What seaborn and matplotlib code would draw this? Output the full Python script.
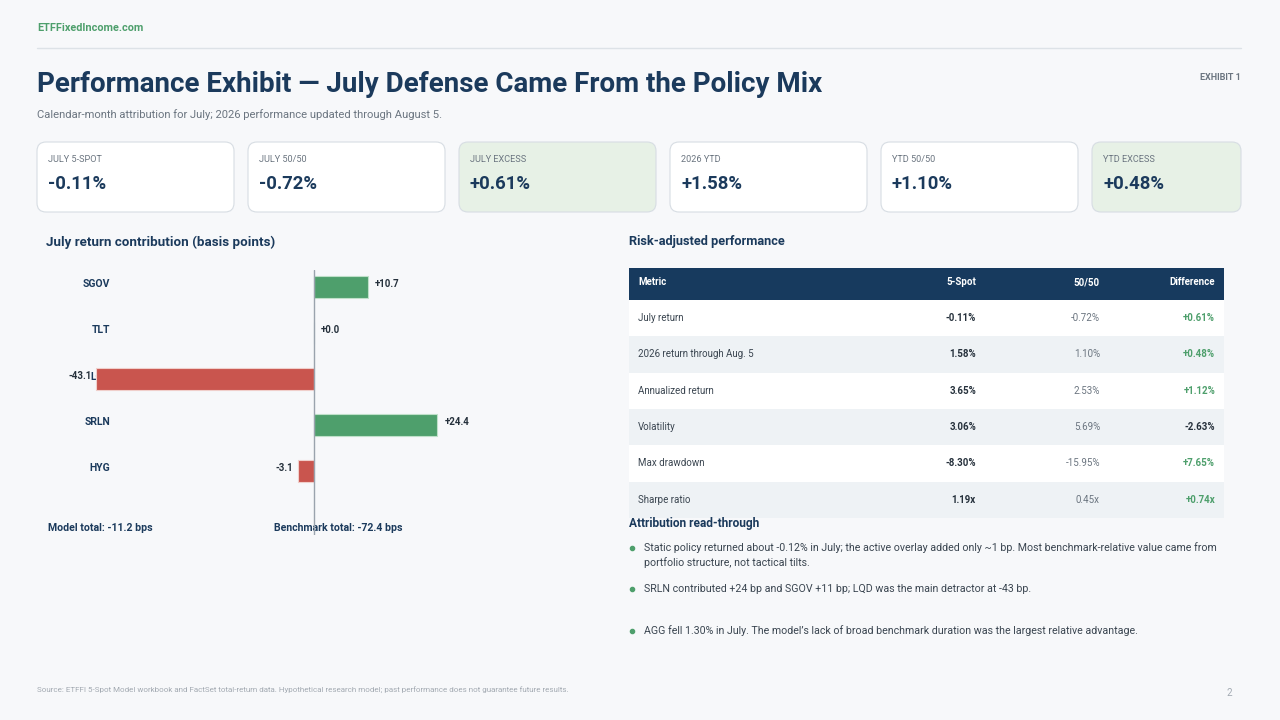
import matplotlib
matplotlib.use("Agg")
import matplotlib.pyplot as plt
import seaborn as sns
import pandas as pd
from matplotlib.patches import FancyBboxPatch, Rectangle

sns.set_theme(style="white")
plt.rcParams["font.family"] = ["Roboto", "DejaVu Sans"]

# ---- data ----
tickers = ["SGOV", "TLT", "LQD", "SRLN", "HYG"]
contrib_bp = [10.7, 0.0, -43.1, 24.4, -3.1]
model_total = -11.2
bench_total = -72.4

card_labels = ["JULY 5-SPOT", "JULY 50/50", "JULY EXCESS", "2026 YTD", "YTD 50/50", "YTD EXCESS"]
card_values = ["-0.11%", "-0.72%", "+0.61%", "+1.58%", "+1.10%", "+0.48%"]
card_highlight = [False, False, True, False, False, True]

table_cols = ["Metric", "5-Spot", "50/50", "Difference"]
metrics = ["July return", "2026 return through Aug. 5", "Annualized return",
           "Volatility", "Max drawdown", "Sharpe ratio"]
spot_vals = ["-0.11%", "1.58%", "3.65%", "3.06%", "-8.30%", "1.19x"]
bench_vals = ["-0.72%", "1.10%", "2.53%", "5.69%", "-15.95%", "0.45x"]
diff_vals = ["+0.61%", "+0.48%", "+1.12%", "-2.63%", "+7.65%", "+0.74x"]

bullets = [
    "Static policy returned about -0.12% in July; the active overlay added only ~1 bp. Most benchmark-relative value came from\nportfolio structure, not tactical tilts.",
    "SRLN contributed +24 bp and SGOV +11 bp; LQD was the main detractor at -43 bp.",
    "AGG fell 1.30% in July. The model\u2019s lack of broad benchmark duration was the largest relative advantage.",
]

# ---- colours ----
BG = "#F7F8FA"
NAVY = "#1B3A5C"
HEADER = "#173A5E"
GREEN = "#4E9F6C"
RED = "#C9554E"
GRAY = "#6B7580"
TEXT = "#3A4550"

fig = plt.figure(figsize=(12.8, 7.2), dpi=100, facecolor=BG)

# full-figure canvas in pixel coordinates
cv = fig.add_axes([0, 0, 1, 1])
cv.set_xlim(0, 1280)
cv.set_ylim(720, 0)
cv.axis("off")
cv.set_facecolor(BG)

# header
cv.text(37, 28, "ETFFixedIncome.com", color=GREEN, fontsize=7.8, fontweight="bold", va="center")
cv.plot([37, 1241], [48, 48], color="#DDE2E7", lw=1)
cv.text(37, 84, "Performance Exhibit \u2014 July Defense Came From the Policy Mix",
        color=NAVY, fontsize=20, fontweight="bold", va="center")
cv.text(1241, 78, "EXHIBIT 1", color=GRAY, fontsize=6.5, fontweight="bold", ha="right", va="center")
cv.text(37, 115, "Calendar-month attribution for July; 2026 performance updated through August 5.",
        color=GRAY, fontsize=8.15, va="center")

# KPI cards
card_x = [37, 248, 459, 670, 881, 1092]
card_w = 197
for x, lab, val, hl in zip(card_x, card_labels, card_values, card_highlight):
    w = 1241 - x if x == card_x[-1] else card_w
    box = FancyBboxPatch((x, 142), w, 70, boxstyle="round,pad=0,rounding_size=9",
                         facecolor="#E7F1E6" if hl else "white", edgecolor="#D7DDE3", lw=0.8)
    cv.add_patch(box)
    cv.text(x + 11, 160, lab, color=GRAY, fontsize=6.6, va="center")
    cv.text(x + 11, 184, val, color=NAVY, fontsize=13.3, fontweight="bold", va="center")

# section titles
cv.text(46, 242, "July return contribution (basis points)", color=NAVY, fontsize=9.6,
        fontweight="bold", va="center")
cv.text(629, 242, "Risk-adjusted performance", color=NAVY, fontsize=9.2,
        fontweight="bold", va="center")

# ---- table ----
tx0, tx1 = 629, 1224
cv.add_patch(Rectangle((tx0, 268), tx1 - tx0, 32, facecolor=HEADER, edgecolor="none"))
col_x = [638, 976, 1100, 1215]
col_ha = ["left", "right", "right", "right"]
for cx, ha, c in zip(col_x, col_ha, table_cols):
    cv.text(cx, 282, c, color="white", fontsize=7, fontweight="bold", ha=ha, va="center")
row_h = 36.3
for i, (m, s, b, d) in enumerate(zip(metrics, spot_vals, bench_vals, diff_vals)):
    y0 = 300 + i * row_h
    cv.add_patch(Rectangle((tx0, y0), tx1 - tx0, row_h,
                           facecolor="white" if i % 2 == 0 else "#EEF2F5", edgecolor="none"))
    yc = y0 + row_h / 2
    cv.text(col_x[0], yc, m, color=TEXT, fontsize=7, va="center")
    cv.text(col_x[1], yc, s, color="#26313C", fontsize=7, fontweight="bold", ha="right", va="center")
    cv.text(col_x[2], yc, b, color=GRAY, fontsize=7, ha="right", va="center")
    pos = d.startswith("+")
    cv.text(col_x[3], yc, d, color=GREEN if pos else "#26313C", fontsize=7,
            fontweight="bold", ha="right", va="center")

# attribution read-through
cv.text(629, 524, "Attribution read-through", color=NAVY, fontsize=8.6, fontweight="bold", va="center")
bullet_y = [548, 589, 631]
for y, t in zip(bullet_y, bullets):
    cv.plot(632, y, "o", color=GREEN, ms=3)
    cv.text(644, y - 5.5, t, color=TEXT, fontsize=7.65, va="top", linespacing=1.4)

# footer
cv.text(37, 690, "Source: ETFFI 5-Spot Model workbook and FactSet total-return data. Hypothetical research model; past performance does not guarantee future results.",
        color="#A3AAB2", fontsize=5.8, va="center")
cv.text(1232, 693, "2", color="#A3AAB2", fontsize=7, ha="right", va="center")

# ---- contribution bar chart ----
# axes placed so 0 sits at x=314 px, 5.05 px per bp, rows every 46 px from y=287
ax_l, ax_r, ax_t, ax_b = 60, 520, 270, 535
ax = fig.add_axes([ax_l / 1280, 1 - ax_b / 720, (ax_r - ax_l) / 1280, (ax_b - ax_t) / 720])
ax.set_facecolor("none")
scale = 5.05
ax.set_xlim((ax_l - 314) / scale, (ax_r - 314) / scale)

df = pd.DataFrame({"ticker": tickers, "bp": contrib_bp})
df["sign"] = ["pos" if v >= 0 else "neg" for v in contrib_bp]
sns.barplot(data=df, x="bp", y="ticker", hue="sign", palette={"pos": GREEN, "neg": RED},
            orient="h", width=0.48, dodge=False, legend=False, ax=ax, saturation=1,
            edgecolor="#F0CFCB", linewidth=0.8, zorder=3)
for p in ax.patches:
    if p.get_width() >= 0:
        p.set_edgecolor("#BFE0C9")
ax.set_ylim((ax_b - 287) / 46, (ax_t - 287) / 46)

ax.axvline(0, color="#9AA3AD", lw=1, zorder=4)
lab_x = (110 - 314) / scale
for i, (t, v) in enumerate(zip(tickers, contrib_bp)):
    ax.text(lab_x, i - 0.06, t, color=NAVY, fontsize=7.5, fontweight="bold", ha="right", va="center", zorder=1)
    if v >= 0:
        ax.text(v + 1.4, i - 0.06, f"+{v:.1f}", color="#26313C", fontsize=7, fontweight="bold",
                ha="left", va="center", zorder=5)
    else:
        ax.text(v - 1.0, i - 0.06, f"{v:.1f}", color="#26313C", fontsize=7, fontweight="bold",
                ha="right", va="center", zorder=5)

ax.set_xlabel("")
ax.set_ylabel("")
ax.set_xticks([])
ax.set_yticks([])
sns.despine(ax=ax, left=True, bottom=True)

cv.text(48, 528, f"Model total: {model_total:.1f} bps", color=NAVY, fontsize=7.6,
        fontweight="bold", va="center")
cv.text(274, 528, f"Benchmark total: {bench_total:.1f} bps", color=NAVY, fontsize=7.6,
        fontweight="bold", va="center")

fig.savefig("out.png", dpi=100, facecolor=BG)
